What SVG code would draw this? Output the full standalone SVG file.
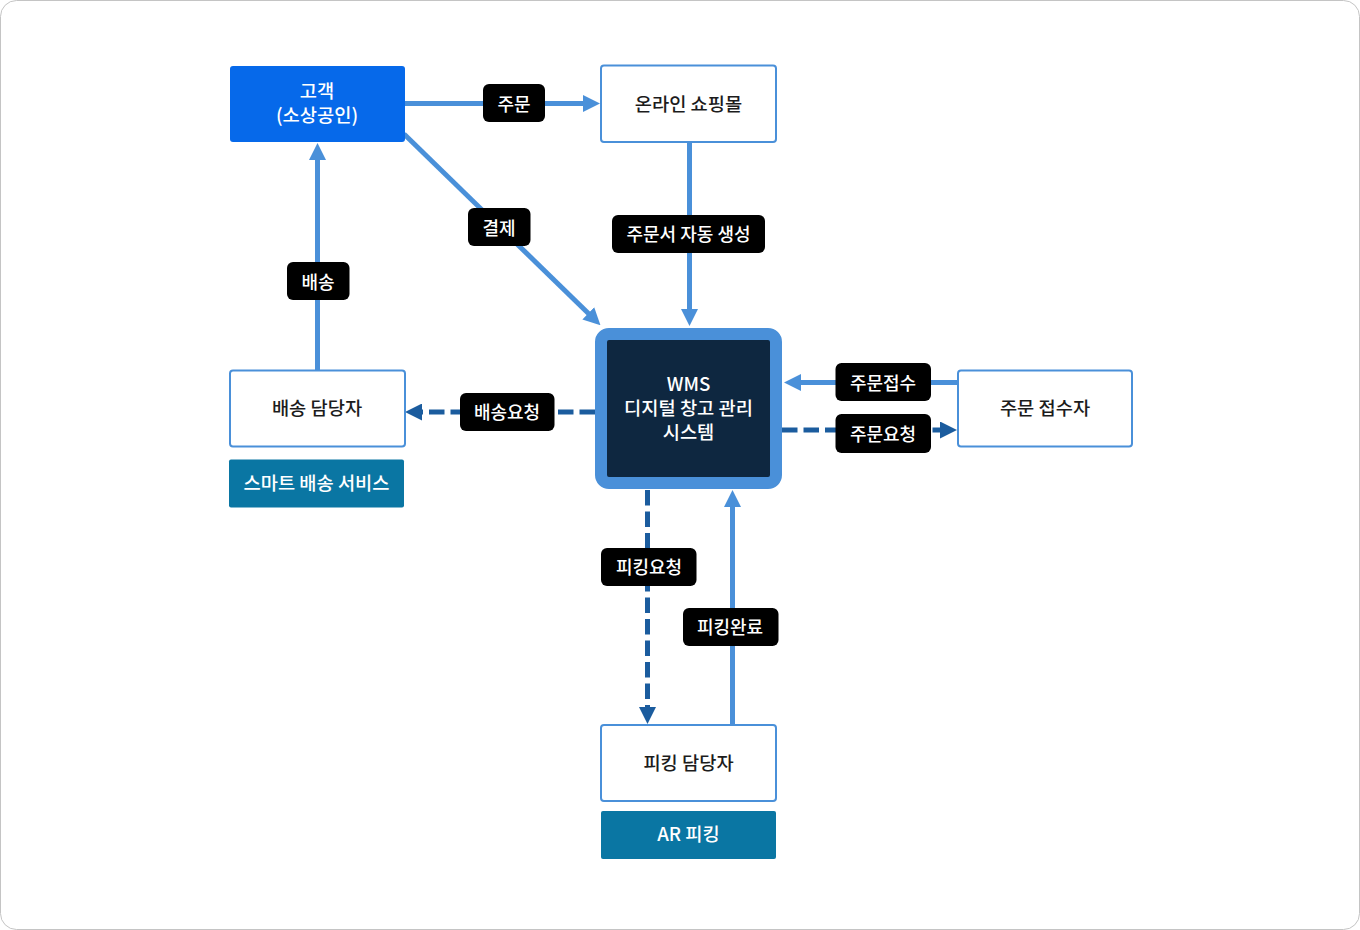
<svg xmlns="http://www.w3.org/2000/svg" width="1360" height="930" viewBox="0 0 1360 930">
<defs>
<marker id="la" markerUnits="userSpaceOnUse" markerWidth="17" markerHeight="17" refX="1" refY="8.500" orient="auto"><path d="M0 0L17 8.500L0 17Z" fill="#4a90d9"/></marker>
<marker id="da" markerUnits="userSpaceOnUse" markerWidth="17" markerHeight="17" refX="1" refY="8.500" orient="auto"><path d="M0 0L17 8.500L0 17Z" fill="#1b5c9e"/></marker>
</defs>
<style>
text{font-family:"Noto Sans CJK KR","Noto Sans",sans-serif;text-anchor:middle;font-weight:500}
.n{font-size:18.7px;fill:#1c1c1c}
.w{font-size:18.7px;fill:#fff}
.l{font-size:18px;fill:#fff}
.b{fill:#fff;stroke:#4a90d9;stroke-width:2}
.t{fill:#0a76a3}
.p{fill:#000}
.c{fill:none;stroke-width:5}
.cl{stroke:#4a90d9;marker-end:url(#la)}
.cd{stroke:#1b5c9e;stroke-dasharray:15.500 6;marker-end:url(#da)}
</style>
<rect x="0.5" y="0.5" width="1359" height="929" rx="16" fill="#fff" stroke="#c4c4c4"/>
<g id="connectors">
<path class="c cl" d="M404 103.500H584"/>
<path class="c cl" d="M404 134L589 314"/>
<path class="c cl" d="M689.500 142V310"/>
<path class="c cl" d="M317.500 370V159"/>
<path class="c cl" d="M958 382.500H800"/>
<path class="c cd" d="M782 430H941"/>
<path class="c cd" d="M595 412H421"/>
<path class="c cd" d="M647.500 490V708"/>
<path class="c cl" d="M732.500 725V506"/>
</g>
<g id="customer"><rect x="230" y="66" width="175" height="76" rx="3" fill="#0669ea"/><text class="w" x="317" y="98">고객</text><text class="w" x="317" y="122">(소상공인)</text></g>
<g id="mall"><rect class="b" x="601" y="65.500" width="175" height="76.500" rx="3"/><text class="n" x="688.500" y="110.500">온라인 쇼핑몰</text></g>
<g id="wms"><rect x="601" y="334" width="175" height="149" rx="8" fill="#0e2740" stroke="#4a90d9" stroke-width="12"/><text class="w" x="688.500" y="391">WMS</text><text class="w" x="688.500" y="415">디지털 창고 관리</text><text class="w" x="688.500" y="439">시스템</text></g>
<g id="delivery"><rect class="b" x="230" y="370.500" width="175" height="76" rx="3"/><text class="n" x="317" y="415">배송 담당자</text></g>
<g id="smart"><rect class="t" x="229" y="459.500" width="175" height="48" rx="2"/><text class="w" x="316.500" y="490">스마트 배송 서비스</text></g>
<g id="receiver"><rect class="b" x="958" y="370.500" width="174" height="76" rx="3"/><text class="n" x="1045" y="415">주문 접수자</text></g>
<g id="picker"><rect class="b" x="601" y="725" width="175" height="76" rx="3"/><text class="n" x="688.500" y="770">피킹 담당자</text></g>
<g id="ar"><rect class="t" x="601" y="811" width="175" height="48" rx="2"/><text class="w" x="688.500" y="841">AR 피킹</text></g>
<g id="label-order"><rect class="p" x="483" y="84" width="62" height="38" rx="6"/><text class="l" x="514" y="110.500">주문</text></g>
<g id="label-pay"><rect class="p" x="468" y="208" width="62.500" height="38" rx="6"/><text class="l" x="499" y="234.500">결제</text></g>
<g id="label-auto"><rect class="p" x="612" y="215" width="153" height="38" rx="6"/><text class="l" x="688.500" y="240.500">주문서 자동 생성</text></g>
<g id="label-ship"><rect class="p" x="287" y="262" width="62.500" height="38" rx="6"/><text class="l" x="318" y="288.500">배송</text></g>
<g id="label-shipreq"><rect class="p" x="460" y="393" width="94.500" height="38" rx="6"/><text class="l" x="507" y="419">배송요청</text></g>
<g id="label-accept"><rect class="p" x="835.500" y="363" width="95.500" height="38" rx="6"/><text class="l" x="883" y="389.500">주문접수</text></g>
<g id="label-req"><rect class="p" x="835.500" y="414" width="95.500" height="39" rx="6"/><text class="l" x="883" y="440.500">주문요청</text></g>
<g id="label-pickreq"><rect class="p" x="601" y="548" width="95.500" height="38" rx="6"/><text class="l" x="649" y="574">피킹요청</text></g>
<g id="label-pickdone"><rect class="p" x="683" y="608" width="95.500" height="38" rx="6"/><text class="l" x="730" y="633.500">피킹완료</text></g>
</svg>
